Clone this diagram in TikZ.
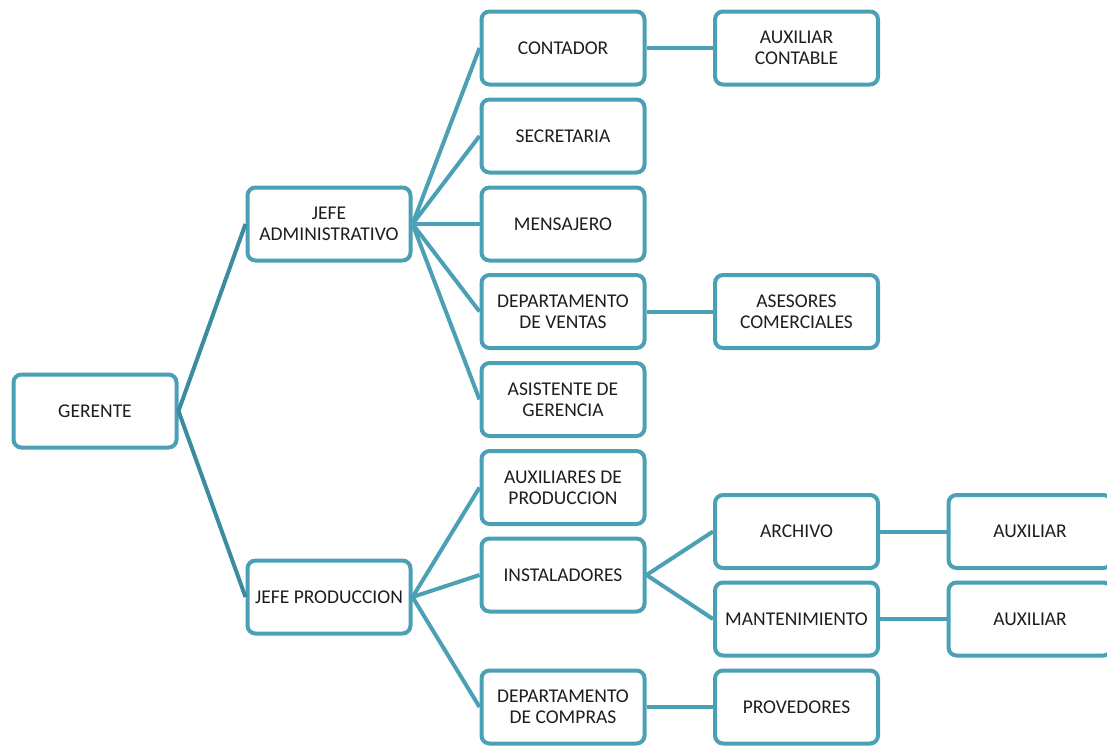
\documentclass[tikz,border=0pt]{standalone}
\usepackage{fontspec}
\setmainfont{Carlito}
\definecolor{boxc}{HTML}{4BA0B6}
\definecolor{darkc}{HTML}{3A8C9E}
\definecolor{txt}{HTML}{1E1E1E}
\begin{document}
\begin{tikzpicture}[x=1pt,y=-1pt,
  box/.style={draw=boxc, line width=4pt, rounded corners=8pt, fill=white,
    minimum width=163pt, minimum height=73pt, inner sep=2pt, align=center,
    text=txt, font=\fontsize{19.5}{21}\selectfont},
  conn/.style={draw=boxc, line width=4pt},
  conn2/.style={draw=darkc, line width=4pt}]
\useasboundingbox (0,0) rectangle (1107,745);
\node[box] (G) at (95,411) {GERENTE};
\node[box] (JA) at (329,224) {JEFE\\ADMINISTRATIVO};
\node[box] (JP) at (329,597) {JEFE PRODUCCION};
\node[box] (CO) at (563,48) {CONTADOR};
\node[box] (SE) at (563,136) {SECRETARIA};
\node[box] (ME) at (563,224) {MENSAJERO};
\node[box] (DV) at (563,311.5) {DEPARTAMENTO\\DE VENTAS};
\node[box] (AG) at (563,399.5) {ASISTENTE DE\\GERENCIA};
\node[box] (AP) at (563,487.5) {AUXILIARES DE\\PRODUCCION};
\node[box] (IN) at (563,575) {INSTALADORES};
\node[box] (DC) at (563,707) {DEPARTAMENTO\\DE COMPRAS};
\node[box] (AC) at (796.5,48) {AUXILIAR\\CONTABLE};
\node[box] (AS) at (796.5,311.5) {ASESORES\\COMERCIALES};
\node[box] (AR) at (796.5,531.5) {ARCHIVO};
\node[box] (MA) at (796.5,619) {MANTENIMIENTO};
\node[box] (PR) at (796.5,707) {PROVEDORES};
\node[box] (X1) at (1030,531.5) {AUXILIAR};
\node[box] (X2) at (1030,619) {AUXILIAR};
\draw[conn2] (G.east) -- (JA.west);
\draw[conn2] (G.east) -- (JP.west);
\foreach \n in {CO,SE,ME,DV,AG} \draw[conn] (JA.east) -- (\n.west);
\foreach \n in {AP,IN,DC} \draw[conn] (JP.east) -- (\n.west);
\draw[conn] (IN.east) -- (AR.west);
\draw[conn] (IN.east) -- (MA.west);
\draw[conn] (CO.east) -- (AC.west);
\draw[conn] (DV.east) -- (AS.west);
\draw[conn] (DC.east) -- (PR.west);
\draw[conn] (AR.east) -- (X1.west);
\draw[conn] (MA.east) -- (X2.west);
\end{tikzpicture}
\end{document}
